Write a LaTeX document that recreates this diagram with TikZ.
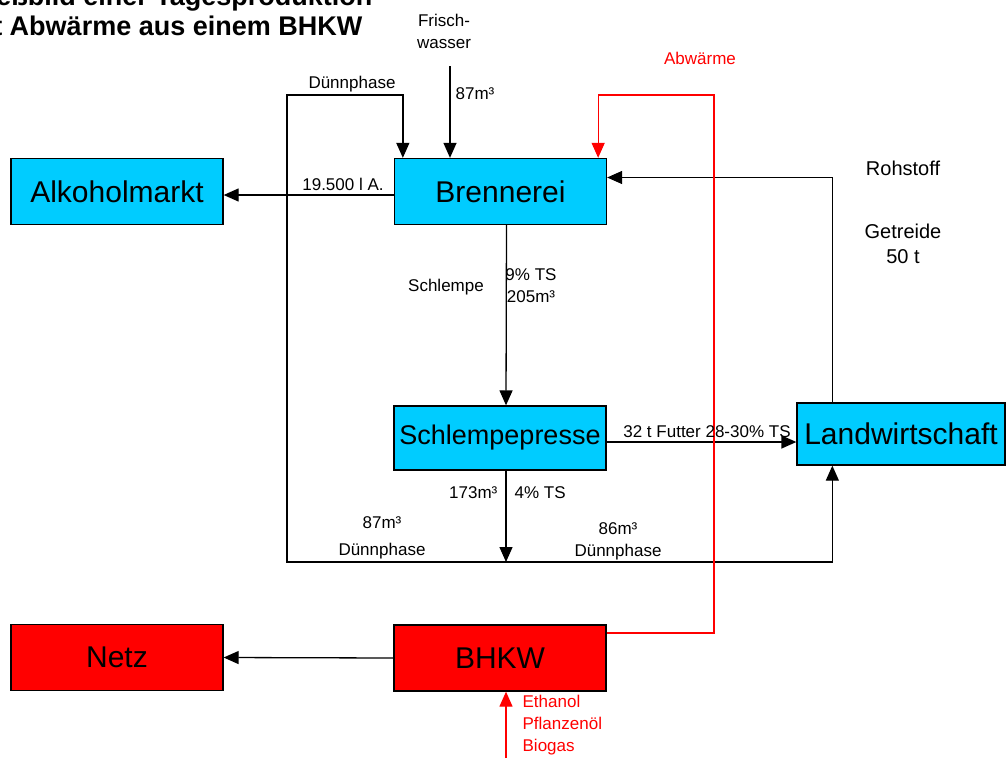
\documentclass[tikz,border=0pt]{standalone}
\usepackage{fontspec}
\setmainfont{Liberation Sans}
\usetikzlibrary{arrows.meta,positioning}
\definecolor{boxcyan}{RGB}{0,204,255}

\begin{document}
\begin{tikzpicture}[x=1pt,y=-1pt,->,>={Triangle[width=13pt,length=15pt]},
                    line width=1.3pt]
  \tikzstyle{box}=[rectangle,draw=black,fill=boxcyan,minimum width=212pt,
                   minimum height=66pt,inner sep=2pt,font=\fontsize{30}{34}\selectfont]
  \tikzstyle{hotbox}=[box,fill=red]
  \tikzstyle{heat}=[draw=red]
  \tikzstyle{lbl}=[inner sep=1pt,font=\fontsize{17}{22}\selectfont,align=center]
  \tikzstyle{biglbl}=[inner sep=1pt,font=\fontsize{20}{25}\selectfont,align=center]
  \tikzstyle{ttl}=[anchor=base east,inner sep=0pt,font=\bfseries\fontsize{27}{30}\selectfont]

  \useasboundingbox (0,0) rectangle (1007,758);
  \clip (0,0) rectangle (1007,758);

  \node[ttl] (t1) at (373,5)  {Fließbild einer Tagesproduktion};
  \node[ttl] (t2) at (363,35) {mit Abwärme aus einem BHKW};

  \node[box]    (alk)    at (117,191.5) {Alkoholmarkt};
  \node[box]    (bren)   at (500.5,191.5) {Brennerei};
  \node[box,font=\fontsize{27}{30}\selectfont,minimum height=64pt]
                (presse) at (500,438) {Schlempepresse};
  \node[box,minimum width=208pt,minimum height=62pt]
                (land)   at (901,434) {Landwirtschaft};
  \node[hotbox] (netz)   at (117,657.5) {Netz};
  \node[hotbox] (bhkw)   at (500,658) {BHKW};

  \coordinate (fw)    at (450,66);
  \coordinate (ret)   at (287,95);
  \coordinate (hk)    at (714,95);
  \coordinate (split) at (506,562);
  \coordinate (fuel)  at (506,758);

  \draw ([yshift=-3.5pt]bren.west) -- ([yshift=-3.5pt]alk.east);
  \draw (fw) -- (fw |- bren.north);
  \draw (split) -| (ret) -| ([xshift=9pt]bren.north west);
  \draw ([xshift=36pt]land.north west) |- ([yshift=14pt]bren.east);
  \draw ([xshift=6pt]bren.south) -- ([xshift=6pt]presse.north);
  \draw ([yshift=-4pt]presse.east) -- ([yshift=-4pt]presse.east -| land.west);
  \draw ([xshift=6pt]presse.south) -- (split);
  \draw (split) -| ([xshift=36pt]land.south west);
  \draw (bhkw.west) -- (netz.east);
  \draw[heat] ([yshift=25pt]bhkw.east) -| (hk) -| ([xshift=-9pt]bren.north east);
  \draw[heat] (fuel) -- (fuel |- bhkw.south);

  \node[lbl] (alkl)  at (343,184) {19.500 l A.};
  \node[lbl] (fwl)   at (444,31)  {Frisch-\\wasser};
  \node[lbl,anchor=west] (fwm) at (454,94) {87m³};
  \node[lbl] (retl)  at (352,84)  {Dünnphase};
  \node[lbl,red] (hkl) at (700,58) {Abwärme};
  \node[biglbl] (roh)  at (903,168) {Rohstoff};
  \node[biglbl,below=45pt of roh] (getr) {Getreide\\50 t};
  \node[lbl] (schl)  at (446,287) {Schlempe};
  \node[lbl] (schm)  at (531,286) {9\% TS\\205m³};
  \node[lbl] (futl)  at (707,432) {32 t Futter 28-30\% TS};
  \node[lbl,anchor=east] (pm)  at (499,493) {173m³};
  \node[lbl,anchor=west] (pts) at (513,493) {4\% TS};
  \node[lbl,font=\fontsize{17}{27}\selectfont] (dl1) at (382,538) {87m³\\Dünnphase};
  \node[lbl] (dl2)   at (618,541) {86m³\\Dünnphase};
  \node[lbl,red,anchor=north west,align=left] (fuell) at (521,694)
       {Ethanol\\Pflanzenöl\\Biogas};
\end{tikzpicture}
\end{document}
